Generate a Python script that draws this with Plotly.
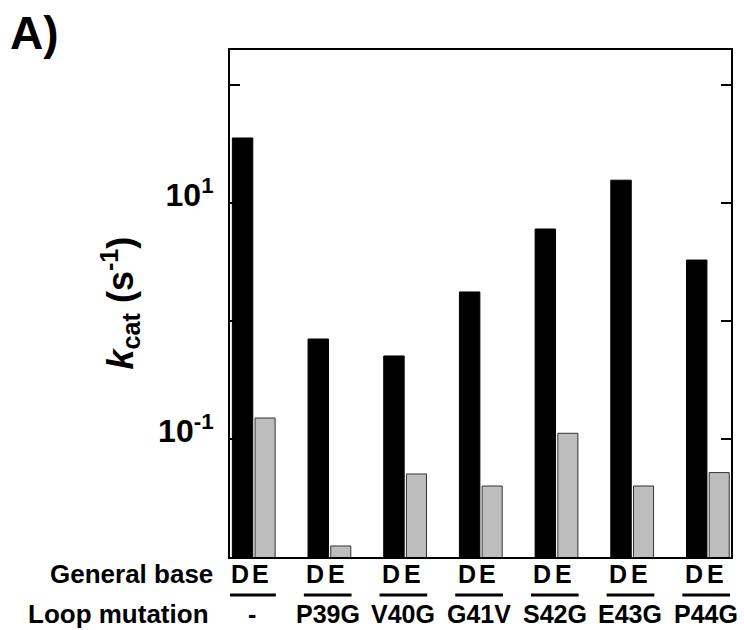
import plotly.graph_objects as go

mutations = ["-", "P39G", "V40G", "G41V", "S42G", "E43G", "P44G"]
base_labels = ["D", "E"]
kcat_D = [35.8, 0.706, 0.507, 1.77, 6.05, 15.7, 3.30]
kcat_E = [0.151, 0.0124, 0.0506, 0.040, 0.112, 0.040, 0.052]
ytick_vals = [100, 10, 1, 0.1]
ytick_text = ["", "10<sup>1</sup>", "", "10<sup>-1</sup>"]

FONT = "Liberation Sans, Arial, Helvetica, sans-serif"
xpos = list(range(len(mutations)))

fig = go.Figure()
fig.add_trace(go.Bar(x=xpos, y=kcat_D, width=0.27, offset=-0.285,
                     marker=dict(color="black", line=dict(color="black", width=1)),
                     name="D"))
fig.add_trace(go.Bar(x=xpos, y=kcat_E, width=0.265, offset=0.015,
                     marker=dict(color="#bdbdbd", line=dict(color="#333333", width=1)),
                     name="E"))

annotations = []
shapes = []
for i, m in enumerate(mutations):
    annotations.append(dict(x=i - 0.15, y=0, xref="x", yref="paper", text=base_labels[0],
                            showarrow=False, xanchor="center", yanchor="middle", yshift=-17,
                            xshift=-3,
                            font=dict(family=FONT, size=25, color="black", weight="bold")))
    annotations.append(dict(x=i + 0.145, y=0, xref="x", yref="paper", text=base_labels[1],
                            showarrow=False, xanchor="center", yanchor="middle", yshift=-17,
                            xshift=-4,
                            font=dict(family=FONT, size=25, color="black", weight="bold")))
    annotations.append(dict(x=i, y=0, xref="x", yref="paper", text=m,
                            showarrow=False, xanchor="center", yanchor="middle", yshift=-57,
                            xshift=-2,
                            font=dict(family=FONT, size=25, color="black", weight="bold")))
    shapes.append(dict(type="line", xref="x", yref="paper", ysizemode="pixel", yanchor=0,
                       x0=i - 0.34, x1=i + 0.29, y0=-38, y1=-38,
                       line=dict(color="black", width=3)))

annotations.append(dict(x=0, y=0, xref="paper", yref="paper", text="General base",
                        showarrow=False, xanchor="right", yanchor="middle", xshift=-15, yshift=-17,
                        font=dict(family=FONT, size=26, color="black", weight="bold")))
annotations.append(dict(x=0, y=0, xref="paper", yref="paper", text="Loop mutation",
                        showarrow=False, xanchor="right", yanchor="middle", xshift=-19, yshift=-57,
                        font=dict(family=FONT, size=26, color="black", weight="bold")))
annotations.append(dict(x=0, y=0.5, xref="paper", yref="paper",
                        text="<i>k</i><sub>cat</sub> (s<sup>-1</sup>)",
                        showarrow=False, textangle=-90, xanchor="center", yanchor="middle",
                        xshift=-110,
                        font=dict(family=FONT, size=36, color="black", weight="bold")))
annotations.append(dict(x=0, y=1, xref="paper", yref="paper", text="A)",
                        showarrow=False, xanchor="center", yanchor="middle",
                        xshift=-196, yshift=17,
                        font=dict(family=FONT, size=46, color="black", weight="bold")))

fig.update_layout(
    width=744, height=630,
    margin=dict(l=230, r=11, t=50, b=73),
    paper_bgcolor="white", plot_bgcolor="white",
    showlegend=False, barmode="overlay",
    annotations=annotations, shapes=shapes,
    xaxis=dict(range=[-0.316, 6.303], showgrid=False, zeroline=False,
               showline=True, linecolor="black", linewidth=2, mirror=True,
               ticks="", showticklabels=False),
    yaxis=dict(type="log", range=[-2, 2.3], showgrid=False, zeroline=False,
               showline=True, linecolor="black", linewidth=2, mirror="ticks",
               ticks="inside", ticklen=10, tickwidth=2, tickcolor="black",
               tickvals=ytick_vals, ticktext=ytick_text,
               ticklabelstandoff=8, ticklabelshift=-8,
               tickfont=dict(family=FONT, size=32, color="black", weight="bold")),
)

fig.write_html("out.html", config={"displayModeBar": False},
               post_script="document.body.style.margin='0';document.body.style.padding='0';")
